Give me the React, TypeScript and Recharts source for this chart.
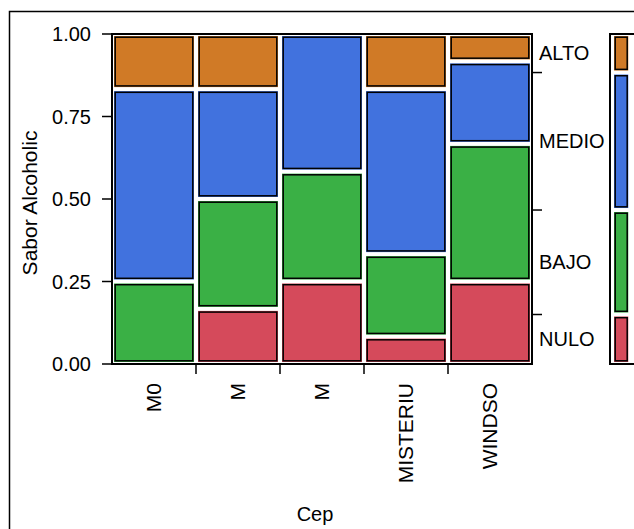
import { Bar, BarChart, XAxis, YAxis } from 'recharts';

const CATEGORIES = ['M0', 'M', 'M', 'MISTERIU', 'WINDSO'];
const LEVELS = ['NULO', 'BAJO', 'MEDIO', 'ALTO'];
const NULO = [0, 0.167, 0.25, 0.083, 0.25];
const BAJO = [0.25, 0.333, 0.333, 0.25, 0.417];
const MEDIO = [0.583, 0.333, 0.417, 0.5, 0.25];
const ALTO = [0.167, 0.167, 0, 0.167, 0.083];
const Y_TICKS = [0, 0.25, 0.5, 0.75, 1];

const COLORS: Record<string, string> = {
  NULO: '#d54a5b',
  BAJO: '#3ab045',
  MEDIO: '#4172de',
  ALTO: '#d07a26',
};

const series: Record<string, number[]> = { NULO, BAJO, MEDIO, ALTO };

const rows = CATEGORIES.map((cat, i) => ({
  id: i,
  cat,
  NULO: NULO[i],
  BAJO: BAJO[i],
  MEDIO: MEDIO[i],
  ALTO: ALTO[i],
}));

// marginal shares (columns all have the same width)
const marginal = LEVELS.map(
  (l) => series[l].reduce((a, b) => a + b, 0) / series[l].length,
);
const legendRow: Record<string, number> = { id: 0 };
LEVELS.forEach((l, i) => (legendRow[l] = marginal[i]));

const boundaries: number[] = [];
const mids: number[] = [];
let acc = 0;
marginal.forEach((m, i) => {
  mids.push(acc + m / 2);
  acc += m;
  if (i < marginal.length - 1) boundaries.push(acc);
});
const RIGHT_TICKS = [...boundaries, ...mids].sort((a, b) => a - b);

const PLOT_LEFT = 112;
const PLOT_RIGHT = 532;
const PLOT_TOP = 34;
const PLOT_BOTTOM = 364;
const LEGEND_LEFT = 610;
const BAND = (PLOT_RIGHT - PLOT_LEFT) / CATEGORIES.length;
const FONT = '"Liberation Sans", Arial, sans-serif';

function Tile(props: any) {
  const { x, y, width, height, fill } = props;
  if (!height || height <= 1) return null;
  return (
    <g>
      <rect x={x + 2} y={y + 2} width={width - 4} height={height - 4} fill={fill} />
      <rect
        x={x + 3.2}
        y={y + 3.2}
        width={width - 6.4}
        height={height - 6.4}
        fill="none"
        stroke="#000"
        strokeWidth={1.5}
      />
    </g>
  );
}

function LegendTile(props: any) {
  const { x, y, height, fill } = props;
  if (!height || height <= 1) return null;
  return (
    <g>
      <rect x={x + 4} y={y + 2} width={14.3} height={height - 4} fill={fill} />
      <rect
        x={x + 5.2}
        y={y + 3.2}
        width={12}
        height={height - 6.4}
        fill="none"
        stroke="#000"
        strokeWidth={1.5}
      />
    </g>
  );
}

function XTick(props: any) {
  const { x, payload, index } = props;
  const label = CATEGORIES[payload.value];
  const ty = PLOT_BOTTOM + 19;
  return (
    <g>
      {index < CATEGORIES.length - 1 && (
        <line
          x1={x + BAND / 2}
          x2={x + BAND / 2}
          y1={PLOT_BOTTOM}
          y2={PLOT_BOTTOM + 10}
          stroke="#000"
          strokeWidth={1.5}
        />
      )}
      <text
        x={x}
        y={ty}
        transform={`rotate(-90, ${x}, ${ty})`}
        textAnchor="end"
        dy="0.35em"
        fontSize={21}
        fill="#000"
      >
        {label}
      </text>
    </g>
  );
}

// ticks of the marginal axis, drawn along the right edge of the mosaic
function MarginTick(props: any) {
  const { y, payload } = props;
  const mi = mids.findIndex((m) => Math.abs(m - payload.value) < 1e-9);
  if (mi < 0) {
    return <line x1={PLOT_RIGHT} x2={PLOT_RIGHT + 10} y1={y} y2={y} stroke="#000" strokeWidth={1.5} />;
  }
  return (
    <text x={PLOT_RIGHT + 7} y={y} dy="0.35em" fontSize={20} fill="#000">
      {LEVELS[mi]}
    </text>
  );
}

export default function App() {
  return (
    <div
      style={{
        position: 'fixed',
        left: 0,
        top: 0,
        width: 634,
        height: 529,
        overflow: 'hidden',
        background: '#fff',
        fontFamily: FONT,
      }}
    >
      <div style={{ position: 'absolute', left: 0, top: 0 }}>
        <BarChart
          width={634}
          height={529}
          data={rows}
          margin={{ top: PLOT_TOP, right: 634 - PLOT_RIGHT, bottom: 0, left: 0 }}
          barCategoryGap={0}
        >
          <XAxis
            dataKey="id"
            height={529 - PLOT_BOTTOM}
            interval={0}
            tick={<XTick />}
            tickLine={false}
            axisLine={false}
            tickSize={0}
            tickMargin={0}
          />
          <YAxis
            width={PLOT_LEFT}
            domain={[0, 1]}
            ticks={Y_TICKS}
            interval={0}
            tickFormatter={(v: number) => v.toFixed(2)}
            tick={{ fontSize: 20, fill: '#000' }}
            tickSize={10}
            tickMargin={11}
            tickLine={{ stroke: '#000', strokeWidth: 1.5 }}
            axisLine={false}
          />
          {LEVELS.map((l) => (
            <Bar
              key={l}
              dataKey={l}
              stackId="s"
              fill={COLORS[l]}
              shape={<Tile />}
              isAnimationActive={false}
            />
          ))}
        </BarChart>
      </div>

      <div style={{ position: 'absolute', left: 0, top: 0 }}>
        <BarChart
          width={LEGEND_LEFT + 32}
          height={529}
          data={[legendRow]}
          margin={{ top: PLOT_TOP, right: 0, bottom: 529 - PLOT_BOTTOM, left: 0 }}
          barCategoryGap={0}
        >
          <XAxis dataKey="id" hide />
          <YAxis
            width={LEGEND_LEFT}
            domain={[0, 1]}
            ticks={RIGHT_TICKS}
            interval={0}
            tick={<MarginTick />}
            tickLine={false}
            axisLine={false}
          />
          {LEVELS.map((l) => (
            <Bar
              key={l}
              dataKey={l}
              stackId="m"
              fill={COLORS[l]}
              shape={<LegendTile />}
              isAnimationActive={false}
            />
          ))}
        </BarChart>
      </div>

      <svg
        width={634}
        height={529}
        style={{ position: 'absolute', left: 0, top: 0, pointerEvents: 'none' }}
      >
        <path d="M9.5 529 V11.5 H634" fill="none" stroke="#000" strokeWidth={1.5} />
        <rect
          x={PLOT_LEFT}
          y={PLOT_TOP}
          width={PLOT_RIGHT - PLOT_LEFT}
          height={PLOT_BOTTOM - PLOT_TOP}
          fill="none"
          stroke="#000"
          strokeWidth={2}
        />
        <rect
          x={LEGEND_LEFT}
          y={PLOT_TOP}
          width={40}
          height={PLOT_BOTTOM - PLOT_TOP}
          fill="none"
          stroke="#000"
          strokeWidth={2}
        />
        <text
          x={30}
          y={203}
          transform="rotate(-90, 30, 203)"
          textAnchor="middle"
          dy="0.35em"
          fontSize={21}
          fill="#000"
        >
          Sabor Alcoholic
        </text>
        <text x={315} y={514} textAnchor="middle" dy="0.35em" fontSize={20} fill="#000">
          Cep
        </text>
      </svg>
    </div>
  );
}
